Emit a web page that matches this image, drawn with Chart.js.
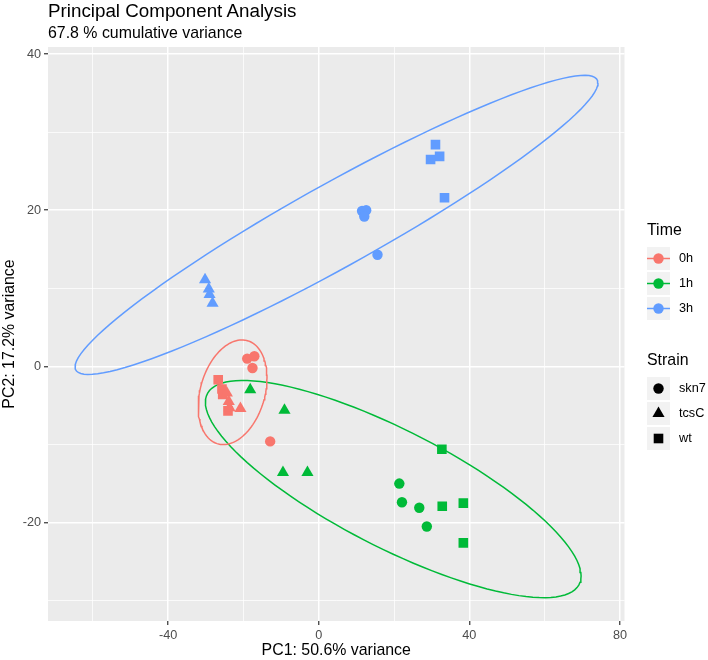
<!DOCTYPE html>
<html>
<head>
<meta charset="utf-8">
<script src="https://cdn.jsdelivr.net/npm/chart.js@4.4.1/dist/chart.umd.min.js"></script>
<style>
  body { margin: 0; background: #fff; font-family: "Liberation Sans", Arial, sans-serif; }
  #wrap { position: relative; width: 708px; height: 660px; }
  #pca { position: absolute; left: 0; top: 0; }
  .txt { position: absolute; white-space: nowrap; line-height: 1; color: #000; }
  #title { left: 48px; top: 1.5px; font-size: 18.8px; }
  #subtitle { left: 48px; top: 25px; font-size: 15.9px; }
  .legTitle { font-size: 15.9px; }
  .legLabel { font-size: 12.7px; }
  .key { position: absolute; }
</style>
</head>
<body>
<div id="wrap">
  <canvas id="pca" width="708" height="660"></canvas>
  <div id="title" class="txt">Principal Component Analysis</div>
  <div id="subtitle" class="txt">67.8 % cumulative variance</div>
  <div id="legend"></div>
</div>
<script>
// Groups
const timeLevels = ["0h", "1h", "3h"];
const strainLevels = ["skn7", "tcsC", "wt"];
const timeColors = ["#F8766D", "#00BA38", "#619CFF"];

// Strain of each sample inside a Time group (same order in every group)
const sampleStrain = ["skn7", "skn7", "skn7", "skn7", "tcsC", "tcsC", "tcsC", "tcsC", "wt", "wt", "wt", "wt"];

// PC scores
const pc1_0h = [-19.0, -17.1, -17.6, -12.9, -24.4, -23.9, -23.7, -20.8, -26.7, -25.7, -25.5, -24.1];
const pc2_0h = [1.0, 1.3, -0.2, -9.6, -3.4, -4.5, -5.3, -5.4, -1.7, -2.9, -3.6, -5.7];
const pc1_1h = [21.4, 22.1, 26.7, 28.7, -18.2, -9.1, -9.5, -3.0, 32.7, 32.8, 38.4, 38.4];
const pc2_1h = [-15.0, -17.4, -18.1, -20.5, -3.0, -5.6, -13.6, -13.6, -10.6, -17.9, -17.5, -22.6];
const pc1_3h = [11.5, 12.6, 12.1, 15.6, -30.2, -29.2, -29.0, -28.2, 31.0, 32.1, 29.7, 33.4];
const pc2_3h = [19.9, 20.0, 19.2, 14.3, 11.1, 9.9, 9.2, 8.1, 28.4, 26.9, 26.5, 21.6];

// Axes
const xTicksMajor = [-40, 0, 40, 80];
const yTicksMajor = [-20, 0, 20, 40];
const xRange = [-71.9, 81.2];
const yRange = [-32.6, 40.9];

const pc1 = [pc1_0h, pc1_1h, pc1_3h];
const pc2 = [pc2_0h, pc2_1h, pc2_3h];
const strainStyle = ["circle", "triangle", "rect"];
const strainRadius = [5.2, 7.0, 6.8];

// robust t covariance (like MASS::cov.trob, nu = 5)
function covTrob(xs, ys) {
  const n = xs.length, nu = 5, p = 2;
  let w = new Array(n).fill(1);
  let lx = xs.reduce((a, b) => a + b, 0) / n;
  let ly = ys.reduce((a, b) => a + b, 0) / n;
  let cx = lx, cy = ly;
  for (let it = 0; it < 200; it++) {
    const w0 = w.slice();
    cx = lx; cy = ly;
    const sw = w.reduce((a, b) => a + b, 0);
    let sxx = 0, sxy = 0, syy = 0;
    for (let i = 0; i < n; i++) {
      const dx = xs[i] - cx, dy = ys[i] - cy;
      sxx += w[i] * dx * dx / sw; sxy += w[i] * dx * dy / sw; syy += w[i] * dy * dy / sw;
    }
    const det = sxx * syy - sxy * sxy;
    let swn = 0; lx = 0; ly = 0;
    for (let i = 0; i < n; i++) {
      const dx = xs[i] - cx, dy = ys[i] - cy;
      const q = (syy * dx * dx - 2 * sxy * dx * dy + sxx * dy * dy) / det;
      w[i] = (nu + p) / (nu + q);
      swn += w[i]; lx += w[i] * xs[i]; ly += w[i] * ys[i];
    }
    lx /= swn; ly /= swn;
    if (w.every((v, i) => Math.abs(v - w0[i]) < 1e-4)) break;
  }
  let sxx = 0, sxy = 0, syy = 0;
  for (let i = 0; i < n; i++) {
    const dx = xs[i] - cx, dy = ys[i] - cy;
    sxx += w[i] * dx * dx / n; sxy += w[i] * dx * dy / n; syy += w[i] * dy * dy / n;
  }
  return { center: [lx, ly], cov: [sxx, sxy, syy] };
}

// 95% ellipse as in stat_ellipse
function ellipsePoints(xs, ys) {
  const v = covTrob(xs, ys);
  const dfd = xs.length - 1;
  const fq = (dfd / 2) * (Math.pow(0.05, -2 / dfd) - 1); // qf(0.95, 2, dfd)
  const radius = Math.sqrt(2 * fq);
  const a = Math.sqrt(v.cov[0]);
  const b = v.cov[1] / a;
  const c = Math.sqrt(v.cov[2] - b * b);
  const pts = [];
  for (let k = 0; k <= 120; k++) {
    const t = k * 2 * Math.PI / 120;
    const u = Math.cos(t), s = Math.sin(t);
    pts.push({ x: v.center[0] + radius * u * a, y: v.center[1] + radius * (u * b + s * c) });
  }
  return pts;
}

const datasets = [];
timeLevels.forEach((t, ti) => {
  strainLevels.forEach((s, si) => {
    const pts = [];
    pc1[ti].forEach((x, i) => { if (sampleStrain[i] === s) pts.push({ x: x, y: pc2[ti][i] }); });
    datasets.push({
      label: t + " " + s,
      data: pts,
      pointStyle: strainStyle[si],
      pointRadius: strainRadius[si],
      backgroundColor: timeColors[ti],
      borderWidth: 0,
      order: 0
    });
  });
});
timeLevels.forEach((t, ti) => {
  datasets.push({
    label: t + " ellipse",
    data: ellipsePoints(pc1[ti], pc2[ti]),
    showLine: true,
    pointRadius: 0,
    borderColor: timeColors[ti],
    borderWidth: 1.5,
    fill: false,
    tension: 0,
    order: 1
  });
});

const panelBg = {
  id: "panelBg",
  beforeDraw(chart) {
    const a = chart.chartArea, ctx = chart.ctx;
    ctx.save();
    ctx.fillStyle = "#EBEBEB";
    ctx.fillRect(a.left, a.top, a.right - a.left, a.bottom - a.top);
    ctx.restore();
  }
};

const fontFam = '"Liberation Sans", Arial, sans-serif';

new Chart(document.getElementById("pca"), {
  type: "scatter",
  data: { datasets: datasets },
  options: {
    responsive: false,
    animation: false,
    events: [],
    layout: { padding: { top: 47, right: 83.5, left: 0, bottom: 0 } },
    plugins: { legend: { display: false }, tooltip: { enabled: false } },
    scales: {
      x: {
        min: xRange[0], max: xRange[1],
        afterFit: s => { s.height = 39; },
        border: { display: false },
        grid: {
          color: "#FFFFFF",
          lineWidth: c => xTicksMajor.includes(c.tick.value) ? 1.5 : 0.75,
          tickColor: c => xTicksMajor.includes(c.tick.value) ? "#333333" : "rgba(0,0,0,0)",
          tickLength: 4,
          tickWidth: 1.2
        },
        ticks: {
          stepSize: 20, autoSkip: false, includeBounds: false, maxRotation: 0, padding: 3,
          color: "#4D4D4D", font: { family: fontFam, size: 12.7 },
          callback: v => xTicksMajor.includes(v) ? String(v) : ""
        },
        title: { display: true, text: "PC1: 50.6% variance", color: "#000", font: { family: fontFam, size: 15.9 }, padding: { top: 0, bottom: 0 } }
      },
      y: {
        min: yRange[0], max: yRange[1],
        afterFit: s => { s.width = 48; },
        border: { display: false },
        grid: {
          color: "#FFFFFF",
          lineWidth: c => yTicksMajor.includes(c.tick.value) ? 1.5 : 0.75,
          tickColor: c => yTicksMajor.includes(c.tick.value) ? "#333333" : "rgba(0,0,0,0)",
          tickLength: 4,
          tickWidth: 1.2
        },
        ticks: {
          stepSize: 10, autoSkip: false, includeBounds: false, padding: 3,
          color: "#4D4D4D", font: { family: fontFam, size: 12.7 },
          callback: v => yTicksMajor.includes(v) ? String(v) : ""
        },
        title: { display: true, text: "PC2: 17.2% variance", color: "#000", font: { family: fontFam, size: 15.9 }, padding: { top: 0, bottom: 0 } }
      }
    }
  },
  plugins: [panelBg]
});

// legend (HTML)
function addText(cls, text, left, cy, size) {
  const d = document.createElement("div");
  d.className = "txt " + cls;
  d.textContent = text;
  d.style.left = left + "px";
  d.style.top = (cy - size / 2) + "px";
  document.getElementById("legend").appendChild(d);
}
function addKey(cy, inner) {
  const d = document.createElement("div");
  d.className = "key";
  d.style.left = "647px";
  d.style.top = (cy - 11.5) + "px";
  d.innerHTML = '<svg width="23" height="23" viewBox="-11.5 -11.5 23 23"><rect x="-11.5" y="-11.5" width="23" height="23" fill="#F2F2F2"/>' + inner + "</svg>";
  document.getElementById("legend").appendChild(d);
}
const legKeyX = 679;
addText("legTitle", "Time", 647, 230, 15.9);
timeLevels.forEach((t, i) => {
  const cy = 258 + 25 * i;
  addKey(cy, '<line x1="-11.5" x2="11.5" y1="0" y2="0" stroke="' + timeColors[i] + '" stroke-width="1.5"/><circle r="5.2" fill="' + timeColors[i] + '"/>');
  addText("legLabel", t, legKeyX, cy, 12.7);
});
addText("legTitle", "Strain", 647, 360, 15.9);
const strainKeys = [
  '<circle r="5.2" fill="#000"/>',
  '<polygon points="0,-7 6.06,3.5 -6.06,3.5" fill="#000"/>',
  '<rect x="-4.8" y="-4.8" width="9.6" height="9.6" fill="#000"/>'
];
strainLevels.forEach((s, i) => {
  const cy = 388 + 25 * i;
  addKey(cy, strainKeys[i]);
  addText("legLabel", s, legKeyX, cy, 12.7);
});
</script>
</body>
</html>
